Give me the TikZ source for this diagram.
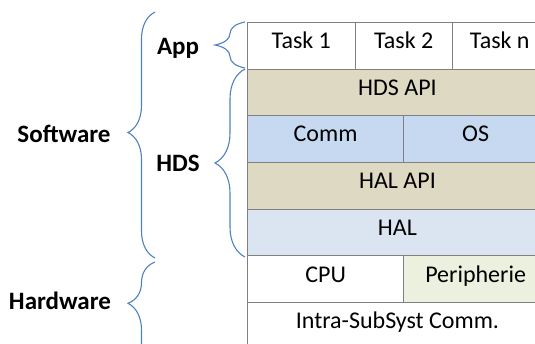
\documentclass[tikz,border=0pt]{standalone}
\usepackage{fontspec}
\setmainfont{Carlito}
\usetikzlibrary{decorations.pathreplacing}
\definecolor{tanfill}{HTML}{DDD9C3}
\definecolor{bluefill}{HTML}{C6D9F1}
\definecolor{lightblue}{HTML}{DBE5F1}
\definecolor{greenfill}{HTML}{EBF1DE}
\definecolor{gridgray}{HTML}{808080}
\definecolor{bracecol}{HTML}{4F81BD}
\begin{document}
\begin{tikzpicture}[x=1pt,y=-1pt,
  cell/.style={draw=gridgray, line width=0.9pt, anchor=north west,
    minimum height=46.7pt, inner sep=0pt, text height=16pt, text depth=10.5pt,
    font=\fontsize{24}{28}\selectfont},
  lbl/.style={anchor=base, inner sep=0pt, font=\fontsize{25}{29}\selectfont\bfseries},
  brc/.style={draw=bracecol, line width=1.1pt, decorate}]
\useasboundingbox (0,0) rectangle (535,344);
\clip (0,0) rectangle (535,344);
% rows
\node[cell, fill=white, minimum width=107.7pt] (task1) at (247,22) {Task 1};
\node[cell, fill=white, minimum width=97pt] (task2) at (354.7,22) {Task 2};
\node[cell, fill=white, minimum width=95.3pt] (taskn) at (451.7,22) {Task n};
\node[cell, fill=tanfill, minimum width=300pt] (hdsapi) at (247,68.7) {HDS API};
\node[cell, fill=bluefill, minimum width=156.3pt] (comm) at (247,115.4) {Comm};
\node[cell, fill=bluefill, minimum width=143.7pt] (os) at (403.3,115.4) {OS};
\node[cell, fill=tanfill, minimum width=300pt] (halapi) at (247,162.1) {HAL API};
\node[cell, fill=lightblue, minimum width=300pt] (hal) at (247,208.8) {HAL};
\node[cell, fill=white, minimum width=156.3pt] (cpu) at (247,255.5) {CPU};
\node[cell, fill=greenfill, minimum width=143.7pt] (peri) at (403.3,255.5) {Peripherie};
\node[cell, fill=white, minimum width=300pt] (intra) at (247,302.2) {Intra-SubSyst Comm.};
% labels
\node[lbl] (app) at (178,55) {App};
\node[lbl] (hds) at (178,172) {HDS};
\node[lbl] (sw) at (64,143) {Software};
\node[lbl] (hw) at (60,310) {Hardware};
% braces
\draw[brc, decoration={brace, amplitude=30pt, aspect=0.5}] (245,68) -- (245,22);
\draw[brc, decoration={brace, amplitude=30pt, aspect=0.5}] (245,257) -- (245,69);
\draw[brc, decoration={brace, amplitude=27pt, aspect=0.51}] (155,258) -- (155,12);
\draw[brc, decoration={brace, amplitude=27pt, aspect=0.65}] (155,380) -- (155,262);
\end{tikzpicture}
\end{document}
